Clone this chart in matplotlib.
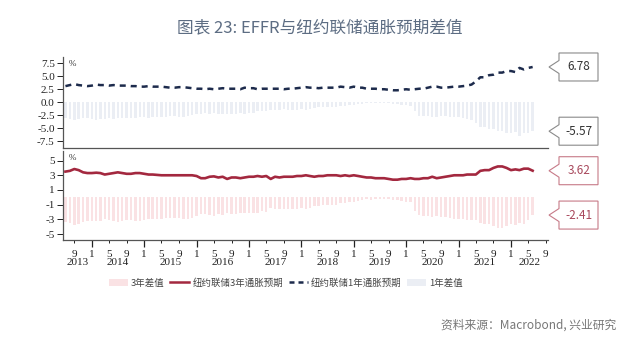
import datetime as dt
import matplotlib
matplotlib.use("Agg")
import matplotlib.pyplot as plt
import matplotlib.dates as mdates
from matplotlib.patches import Polygon, Patch
from matplotlib.lines import Line2D
from matplotlib.ticker import FuncFormatter

# ---------------- data (monthly, Jul 2013 - Jun 2022) ----------------
exp1 = [3.1, 3.3, 3.5, 3.3, 3.2, 3.1,
        3.2, 3.4, 3.3, 3.3, 3.2, 3.3, 3.2, 3.2, 3.2, 3.1, 3.1, 3.0,
        3.0, 3.1, 3.0, 3.0, 3.0, 2.9, 2.8, 2.8, 2.9, 2.9, 2.8, 2.7,
        2.6, 2.6, 2.5, 2.6, 2.5, 2.6, 2.7, 2.6, 2.6, 2.6, 2.5, 2.8,
        2.7, 2.7, 2.5, 2.6, 2.6, 2.6, 2.6, 2.6, 2.5, 2.6, 2.6, 2.7,
        2.8, 2.9, 2.8, 2.8, 2.7, 2.8, 2.8, 2.8, 2.8, 3.0, 2.9, 2.8,
        3.0, 2.8, 2.8, 2.6, 2.6, 2.6, 2.5, 2.5, 2.4, 2.3, 2.3, 2.4,
        2.5, 2.4, 2.5, 2.6, 2.6, 2.8, 3.0, 3.0, 2.8, 2.8, 2.9, 3.0,
        3.0, 3.1, 3.2, 3.4, 4.0, 4.8, 4.8, 5.2, 5.3, 5.7, 5.7, 6.0,
        6.0, 5.8, 6.6, 6.3, 6.6, 6.78]
diff1 = [-3.01, -3.22, -3.42, -3.21, -3.12, -3.01,
         -3.13, -3.33, -3.22, -3.21, -3.11, -3.20, -3.11, -3.11, -3.11, -3.01, -3.01, -2.88,
         -2.89, -2.99, -2.89, -2.88, -2.88, -2.77, -2.67, -2.66, -2.76, -2.78, -2.68, -2.46,
         -2.26, -2.22, -2.14, -2.23, -2.13, -2.22, -2.31, -2.20, -2.20, -2.20, -2.09, -2.26,
         -2.05, -2.04, -1.71, -1.70, -1.69, -1.56, -1.45, -1.44, -1.35, -1.45, -1.44, -1.40,
         -1.39, -1.48, -1.29, -1.11, -1.00, -0.98, -0.89, -0.89, -0.85, -0.81, -0.70, -0.53,
         -0.60, -0.40, -0.39, -0.18, -0.21, -0.22, -0.10, -0.20, -0.22, -0.30, -0.40, -0.50,
         -0.60, -0.70, -1.60, -2.55, -2.55, -2.72, -2.91, -2.90, -2.71, -2.71, -2.81, -2.91,
         -2.91, -3.02, -3.13, -3.33, -3.94, -4.72, -4.70, -5.11, -5.22, -5.62, -5.62, -5.92,
         -5.92, -5.72, -6.40, -5.97, -5.83, -5.57]
exp3 = [3.5, 3.6, 3.85, 3.7, 3.4, 3.3,
        3.3, 3.35, 3.3, 3.1, 3.2, 3.3, 3.4, 3.3, 3.2, 3.2, 3.3, 3.3,
        3.2, 3.1, 3.1, 3.05, 3.0, 3.0, 3.0, 3.0, 3.0, 3.0, 3.0, 3.0,
        2.9, 2.6, 2.6, 2.8, 2.85, 2.7, 2.8, 2.5, 2.7, 2.7, 2.6, 2.7,
        2.8, 2.8, 2.9, 2.8, 2.9, 2.5, 2.8, 2.7, 2.8, 2.8, 2.8, 2.9,
        2.9, 3.0, 2.9, 2.8, 2.9, 2.9, 3.0, 3.0, 3.0, 2.9, 3.0, 2.9,
        3.0, 2.9, 2.8, 2.7, 2.7, 2.6, 2.6, 2.6, 2.5, 2.4, 2.4, 2.5,
        2.5, 2.6, 2.5, 2.5, 2.6, 2.6, 2.8, 2.6, 2.7, 2.8, 2.9, 3.0,
        3.0, 3.0, 3.1, 3.1, 3.1, 3.6, 3.7, 3.7, 4.0, 4.2, 4.2, 4.0,
        3.7, 3.8, 3.7, 3.9, 3.9, 3.62]
diff3 = [-3.41, -3.52, -3.77, -3.61, -3.32, -3.21,
         -3.23, -3.28, -3.22, -3.01, -3.11, -3.20, -3.31, -3.21, -3.11, -3.11, -3.21, -3.18,
         -3.09, -2.99, -2.99, -2.93, -2.88, -2.87, -2.87, -2.86, -2.86, -2.88, -2.88, -2.76,
         -2.56, -2.22, -2.24, -2.43, -2.48, -2.32, -2.41, -2.10, -2.30, -2.30, -2.19, -2.16,
         -2.15, -2.14, -2.11, -1.90, -1.99, -1.46, -1.65, -1.54, -1.65, -1.65, -1.64, -1.60,
         -1.49, -1.58, -1.39, -1.11, -1.20, -1.08, -1.09, -1.09, -1.05, -0.71, -0.80, -0.63,
         -0.60, -0.50, -0.39, -0.28, -0.31, -0.22, -0.20, -0.22, -0.25, -0.30, -0.40, -0.50,
         -0.60, -0.70, -1.85, -2.45, -2.55, -2.52, -2.71, -2.50, -2.61, -2.71, -2.81, -2.91,
         -2.91, -2.92, -3.03, -3.03, -3.04, -3.52, -3.60, -3.61, -3.92, -4.12, -4.12, -3.92,
         -3.62, -3.72, -3.50, -3.57, -3.13, -2.41]

months = [dt.date(2013 + (6 + i) // 12, (6 + i) % 12 + 1, 1) for i in range(len(exp1))]
years = list(range(2013, 2023))
top_ticks = [7.5, 5.0, 2.5, 0.0, -2.5, -5.0, -7.5]
bot_ticks = [5, 3, 1, -1, -3, -5]

title = "图表 23: EFFR与纽约联储通胀预期差值"
legend_labels = ["3年差值", "纽约联储3年通胀预期", "纽约联储1年通胀预期", "1年差值"]
source = "资料来源：Macrobond, 兴业研究"

# ---------------- style ----------------
CJK = ["Noto Sans CJK SC", "DejaVu Sans"]
SERIF = ["Liberation Serif", "DejaVu Serif"]
NAVY = "#1d2b4c"
RED = "#a3283f"
LIGHT_BLUE = "#ebeef4"
LIGHT_PINK = "#fae2e4"
SPINE = "#555555"

W, H = 640, 341
fig = plt.figure(figsize=(W / 100, H / 100), dpi=100)

def fx(px):
    return px / W

def fy(py):
    return 1 - py / H

L, R = 63, 548
ax1 = fig.add_axes([fx(L), fy(148), fx(R - L), (148 - 57) / H])
ax2 = fig.add_axes([fx(L), fy(240), fx(R - L), (240 - 151) / H])

xlim = (dt.date(2013, 6, 14), dt.date(2022, 9, 16))
bw = 17

# top panel
ax1.bar(months, diff1, width=bw, color=LIGHT_BLUE, linewidth=0, zorder=1)
ax1.plot(months, exp1, color=NAVY, lw=1.8, linestyle=(0, (2.4, 2.0)), zorder=3)
ax1.set_ylim(-8.8, 8.7)
ax1.set_yticks(top_ticks)
ax1.set_yticklabels([f"{v:.1f}" for v in top_ticks])
ax1.set_xlim(*xlim)
ax1.tick_params(axis="x", which="both", bottom=False, labelbottom=False)

# bottom panel
ax2.bar(months, diff3, width=bw, color=LIGHT_PINK, linewidth=0, zorder=1)
ax2.plot(months, exp3, color=RED, lw=1.9, zorder=3)
ax2.set_ylim(-5.8, 6.3)
ax2.set_yticks(bot_ticks)
ax2.set_yticklabels([str(v) for v in bot_ticks])
ax2.set_xlim(*xlim)
ax2.xaxis.set_major_locator(mdates.MonthLocator(bymonth=[1]))
ax2.xaxis.set_minor_locator(mdates.MonthLocator(bymonth=[5, 9]))
mfmt = FuncFormatter(lambda v, p: str(mdates.num2date(v).month))
ax2.xaxis.set_major_formatter(mfmt)
ax2.xaxis.set_minor_formatter(mfmt)
ax2.tick_params(axis="x", which="major", length=5, width=0.9, pad=2, colors="#222222")
ax2.tick_params(axis="x", which="minor", length=2.5, width=0.7, pad=4.5, colors="#222222")

for ax in (ax1, ax2):
    for s in ("top", "right"):
        ax.spines[s].set_visible(False)
    for s in ("left", "bottom"):
        ax.spines[s].set_color(SPINE)
        ax.spines[s].set_linewidth(0.9)
    ax.tick_params(axis="y", length=4, width=0.7, pad=2, colors="#222222")
    for lab in ax.get_yticklabels() + ax.get_xticklabels(which="both"):
        lab.set_family(SERIF)
        lab.set_fontsize(8)
    ax.text(0.012, 0.97, "%", transform=ax.transAxes, fontsize=6.5, color="#333333",
            va="top", ha="left", family=SERIF)

# year labels
x0n, x1n = mdates.date2num(xlim[0]), mdates.date2num(xlim[1])
for y in years:
    a = max(mdates.date2num(dt.date(y, 1, 1)), x0n)
    b = min(mdates.date2num(dt.date(y + 1, 1, 1)), x1n)
    ax2.text((a + b) / 2, -0.25, str(y), transform=ax2.get_xaxis_transform(),
             ha="center", va="center", fontsize=8, family=SERIF, color="#222222")

# title and source
fig.text(0.5, fy(28), title, ha="center", va="center", fontsize=12,
         color="#5d6d83", family=CJK)
fig.text(fx(616), fy(325), source, ha="right", va="center", fontsize=8.5,
         color="#777777", family=CJK)

# legend
handles = [Patch(facecolor=LIGHT_PINK, edgecolor="none"),
           Line2D([], [], color=RED, lw=1.8),
           Line2D([], [], color=NAVY, lw=1.8, linestyle=(0, (2.0, 1.6))),
           Patch(facecolor=LIGHT_BLUE, edgecolor="none")]
leg = fig.legend(handles, legend_labels, loc="center", bbox_to_anchor=(fx(286), fy(283)),
                 ncol=4, frameon=False, handlelength=2.0, handleheight=0.9,
                 handletextpad=0.35, columnspacing=0.6,
                 prop={"family": CJK, "size": 6.8})
for t in leg.get_texts():
    t.set_color("#444444")

# callouts
def callout(ax, value, edge, tcolor):
    yd = ax.transData.transform((0, value))[1]
    tip = 549
    bl, br = 559, 598
    hh, nh = 14, 6.5
    pts = [(tip, yd), (bl, yd + nh), (bl, yd + hh), (br, yd + hh),
           (br, yd - hh), (bl, yd - hh), (bl, yd - nh)]
    poly = Polygon(pts, closed=True, transform=None, facecolor="white",
                   edgecolor=edge, linewidth=0.8, zorder=5)
    fig.patches.append(poly)
    fig.text(fx((bl + br) / 2 + 0.5), yd / H, f"{value:.2f}", ha="center", va="center",
             fontsize=8.5, color=tcolor, family=CJK, zorder=6)

callout(ax1, exp1[-1], "#8a8a8a", "#333333")
callout(ax1, diff1[-1], "#8a8a8a", "#333333")
callout(ax2, exp3[-1], "#c77a88", "#a8485c")
callout(ax2, diff3[-1], "#c77a88", "#a8485c")

fig.savefig("out.png", dpi=100)
